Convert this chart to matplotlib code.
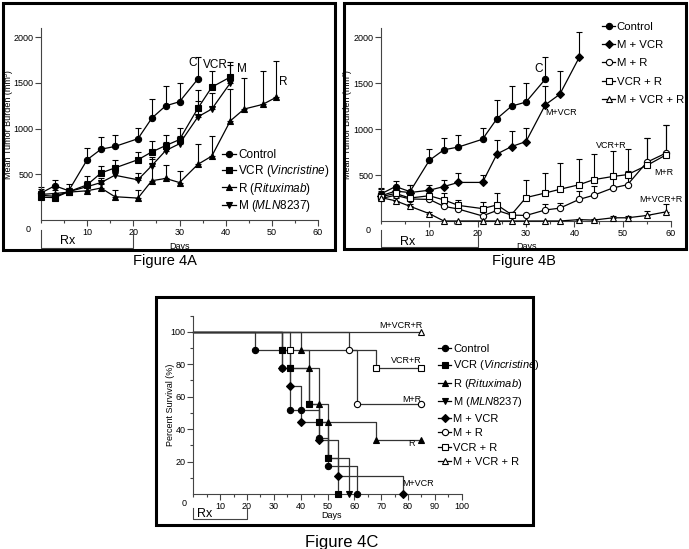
import numpy as np
import matplotlib
matplotlib.use("Agg")
import matplotlib.pyplot as plt
from matplotlib.patches import Rectangle
from matplotlib.lines import Line2D
import matplotlib.transforms as mtransforms

plt.rcParams['font.family'] = ['Liberation Sans', 'DejaVu Sans']
plt.rcParams['mathtext.fontset'] = 'custom'
plt.rcParams['mathtext.it'] = 'Liberation Sans:italic'
plt.rcParams['mathtext.rm'] = 'Liberation Sans'

# --- Figure 4A / 4B : tumor burden (mean, upper error) ---
ctrl_days = [0, 3, 6, 10, 13, 16, 21, 24, 27, 30, 34]
ctrl_mean = [295, 375, 320, 660, 775, 805, 890, 1115, 1250, 1295, 1545]
ctrl_err = [65, 65, 70, 125, 130, 130, 120, 205, 215, 205, 245]

vcr_days = [0, 3, 6, 10, 13, 16, 21, 24, 27, 30, 34, 37, 41]
vcr_mean = [250, 245, 310, 385, 515, 570, 660, 745, 815, 880, 1225, 1455, 1565]
vcr_err = [70, 40, 40, 100, 80, 90, 80, 115, 115, 125, 200, 175, 170]

r_days = [0, 3, 6, 10, 13, 16, 21, 24, 27, 30, 34, 37, 41, 44, 48, 51]
r_mean = [280, 290, 305, 320, 350, 255, 240, 430, 455, 410, 610, 700, 1085, 1215, 1265, 1345]
r_err = [60, 40, 30, 40, 40, 70, 85, 240, 150, 130, 220, 215, 345, 345, 365, 395]

m_days = [0, 3, 6, 10, 13, 16, 21, 24, 27, 30, 34, 37, 41]
m_mean = [270, 260, 310, 365, 410, 490, 440, 595, 760, 835, 1130, 1215, 1500]
m_err = [50, 40, 40, 60, 50, 0, 70, 100, 90, 90, 170, 175, 200]

mvcr_days = [0, 3, 6, 10, 13, 16, 21, 24, 27, 30, 34, 37, 41]
mvcr_mean = [275, 325, 310, 335, 375, 420, 420, 730, 810, 865, 1265, 1380, 1780]
mvcr_err = [70, 60, 80, 60, 70, 105, 85, 155, 165, 150, 210, 255, 280]

combo_days = [0, 3, 6, 10, 13, 16, 21, 24, 27, 30, 34, 37, 41, 44, 48, 51, 55, 59]
mr_mean = [245, 280, 240, 235, 160, 130, 55, 115, 65, 60, 120, 140, 235, 280, 360, 395, 640, 740]
mr_err = [40, 40, 40, 30, 40, 40, 60, 70, 20, 20, 60, 60, 90, 100, 130, 150, 260, 300]
vcrr_mean = [265, 300, 250, 275, 230, 170, 135, 175, 70, 255, 305, 345, 395, 450, 485, 505, 605, 720]
vcrr_err = [60, 50, 60, 60, 80, 60, 70, 130, 30, 195, 215, 285, 280, 280, 280, 280, 295, 320]
mvcrr_mean = [255, 220, 160, 80, 0, 0, 0, 0, 0, 0, 0, 0, 15, 10, 35, 35, 60, 100]
mvcrr_err = [30, 30, 20, 20, 0, 0, 0, 0, 0, 0, 0, 0, 10, 10, 15, 15, 45, 90]

# --- Figure 4C : Kaplan-Meier steps (day of step, percent after step) ---
km_ctrl_t = [23, 33, 36, 40, 47, 50, 61]
km_ctrl_s = [88.9, 77.8, 51.9, 51.9, 34.6, 17.3, 0]
km_vcr_t = [33, 36, 43, 47, 50, 54]
km_vcr_s = [88.9, 77.8, 55.6, 44.4, 22.2, 0]
km_r_t = [40, 43, 47, 50, 68, 85]
km_r_s = [88.9, 77.8, 55.6, 44.4, 33.3, 33.3]
km_m_t = [33, 36, 43, 47, 50, 58]
km_m_s = [88.9, 77.8, 55.6, 44.4, 22.2, 0]
km_mvcr_t = [33, 36, 40, 47, 54, 78]
km_mvcr_s = [77.8, 66.7, 44.4, 33.3, 11.1, 0]
km_mr_t = [58, 61, 85]
km_mr_s = [88.9, 55.6, 55.6]
km_vcrr_t = [36, 68, 85]
km_vcrr_s = [88.9, 77.8, 77.8]
km_mvcrr_t = [85]
km_mvcrr_s = [100]

W, H = 689, 549
fig = plt.figure(figsize=(W / 100, H / 100), dpi=100)
fig.patch.set_facecolor('white')


def fx(px):
    return px / W


def fy(py):
    return 1 - py / H


def axes_px(x0, x1, y0, y1):
    # pixel box -> figure axes (y0 = top, y1 = bottom)
    return fig.add_axes([fx(x0), fy(y1), (x1 - x0) / W, (y1 - y0) / H])


def frame(x0, y0, x1, y1):
    fig.add_artist(Rectangle((fx(x0), fy(y1)), (x1 - x0) / W, (y1 - y0) / H,
                             transform=fig.transFigure, fill=False,
                             edgecolor='black', linewidth=2.2))


def style_axes(ax, xmax, ymax, yticks, xstep):
    for s in ['top', 'right']:
        ax.spines[s].set_visible(False)
    for s in ['left', 'bottom']:
        ax.spines[s].set_color('#444444')
        ax.spines[s].set_linewidth(0.8)
    ax.set_xlim(0, xmax)
    ax.set_ylim(0, ymax)
    ax.set_xticks(np.arange(xstep, xmax + 1, xstep))
    ax.set_xticks(np.arange(0, xmax + 0.1, xstep / 2), minor=True)
    ax.set_yticks(yticks)
    ax.tick_params(axis='both', which='major', direction='out', length=4,
                   width=0.8, color='#444444', labelsize=6.5, pad=1.5)
    ax.tick_params(axis='both', which='minor', direction='out', length=2.5,
                   width=0.8, color='#444444')
    ax.patch.set_alpha(0)


def series(ax, x, y, err, marker, filled=True, ms=4.5):
    fc = 'black' if filled else 'white'
    ax.plot(x, y, color='black', lw=0.9, marker=marker, ms=ms,
            mfc=fc, mec='black', mew=0.8, zorder=3, clip_on=False)
    x = np.array(x)
    y = np.array(y)
    err = np.array(err)
    keep = err > 0
    ax.errorbar(x[keep], y[keep], yerr=[np.zeros(keep.sum()), err[keep]],
                fmt='none', ecolor='black', elinewidth=0.8, capsize=2.3,
                capthick=0.8, zorder=2, clip_on=False)


def rx_bracket(ax, y_top, y_bot, rx_x, days_x, y_text, y_days):
    tr = mtransforms.blended_transform_factory(ax.transData, ax.transAxes)
    ax.plot([0, 0, 20, 20], [y_top, y_bot, y_bot, y_top], color='#444444',
            lw=0.8, transform=tr, clip_on=False)
    ax.text(rx_x, y_text, 'Rx', transform=tr, fontsize=9, ha='left', va='center')
    ax.text(days_x, y_days, 'Days', transform=tr, fontsize=6.5, ha='center', va='center')


def legend_px(ax, handles, labels, px, py, fs, spacing, hl):
    ax.legend(handles, labels, loc='upper left', bbox_to_anchor=(fx(px), fy(py)),
              bbox_transform=fig.transFigure, frameon=False, fontsize=fs,
              handlelength=hl, handletextpad=0.15, labelspacing=spacing,
              borderpad=0, borderaxespad=0)


def handle(marker, filled=True, ms=4.5):
    return Line2D([], [], color='black', lw=0.9, marker=marker, ms=ms,
                  mfc='black' if filled else 'white', mec='black', mew=0.8)


# --- panel frames ---
frame(3, 3, 335, 250)
frame(344, 3, 686, 249)
frame(156, 297, 533, 525)

# --- Figure 4A ---
axA = axes_px(41, 318, 28.2, 220)
style_axes(axA, 60, 2100, [500, 1000, 1500, 2000], 10)
series(axA, ctrl_days, ctrl_mean, ctrl_err, 'o')
series(axA, vcr_days, vcr_mean, vcr_err, 's', ms=4.2)
series(axA, r_days, r_mean, r_err, '^')
series(axA, m_days, m_mean, m_err, 'v')
axA.set_ylabel('Mean Tumor Burden (mm³)', fontsize=6.5)
axA.yaxis.set_label_coords(-0.101, 0.5)
axA.text(-2.2, -55, '0', fontsize=6.5, ha='right', va='top')
rx_bracket(axA, -0.052, -0.146, 4.1, 30.1, -0.112, -0.139)
axA.text(32.8, 1724, 'C', fontsize=8.5, ha='center', va='center')
axA.text(37.8, 1697, 'VCR', fontsize=8.5, ha='center', va='center')
axA.text(43.5, 1658, 'M', fontsize=8.5, ha='center', va='center')
axA.text(52.5, 1511, 'R', fontsize=8.5, ha='center', va='center')
legend_px(axA, [handle('o'), handle('s', ms=4.2), handle('^'), handle('v')],
          ['Control', r'VCR $\it{(Vincristine)}$', r'R $\it{(Rituximab)}$',
           r'M $\it{(MLN8237)}$'], 222, 149, 8.5, 0.15, 1.2)
fig.text(fx(165), fy(261), 'Figure 4A', fontsize=10.5, ha='center', va='center')

# --- Figure 4B ---
axB = axes_px(381, 671, 28.1, 221)
style_axes(axB, 60, 2100, [500, 1000, 1500, 2000], 10)
series(axB, ctrl_days, ctrl_mean, ctrl_err, 'o')
series(axB, mvcr_days, mvcr_mean, mvcr_err, 'D', ms=4)
series(axB, combo_days, mr_mean, mr_err, 'o', filled=False)
series(axB, combo_days, vcrr_mean, vcrr_err, 's', filled=False, ms=4.2)
series(axB, combo_days, mvcrr_mean, mvcrr_err, '^', filled=False)
axB.set_ylabel('Mean Tumor Burden (mm³)', fontsize=6.5)
axB.yaxis.set_label_coords(-0.1, 0.5)
axB.text(-2.2, -55, '0', fontsize=6.5, ha='right', va='top')
rx_bracket(axB, -0.047, -0.133, 3.9, 30.1, -0.107, -0.130)
axB.text(32.6, 1655, 'C', fontsize=8.5, ha='center', va='center')
axB.text(37.3, 1181, 'M+VCR', fontsize=6.5, ha='center', va='center')
axB.text(47.6, 822, 'VCR+R', fontsize=6.5, ha='center', va='center')
axB.text(58.5, 533, 'M+R', fontsize=6.5, ha='center', va='center')
axB.text(58.0, 229, 'M+VCR+R', fontsize=6.5, ha='center', va='center')
legend_px(axB, [handle('o'), handle('D', ms=4), handle('o', False),
                handle('s', False, 4.2), handle('^', False)],
          ['Control', 'M + VCR', 'M + R', 'VCR + R', 'M + VCR + R'],
          602, 22, 8.2, 0.72, 1.15)
fig.text(fx(524), fy(261), 'Figure 4B', fontsize=10.5, ha='center', va='center')

# --- Figure 4C ---
axC = axes_px(193.3, 461.7, 315.5, 494)
style_axes(axC, 100, 110, [20, 40, 60, 80, 100], 10)
axC.set_yticks(np.arange(10, 111, 10), minor=True)
km_sets = [
    (km_mvcrr_t, km_mvcrr_s, '^', False),
    (km_m_t, km_m_s, 'v', True),
    (km_vcrr_t, km_vcrr_s, 's', False),
    (km_mr_t, km_mr_s, 'o', False),
    (km_r_t, km_r_s, '^', True),
    (km_vcr_t, km_vcr_s, 's', True),
    (km_mvcr_t, km_mvcr_s, 'D', True),
    (km_ctrl_t, km_ctrl_s, 'o', True),
]
for t, s, mk, filled in km_sets:
    xs = [0] + list(t)
    ys = [100] + list(s)
    axC.step(xs, ys, where='post', color='#333333', lw=0.9, zorder=2, clip_on=False)
    axC.plot(t, s, ls='none', marker=mk, ms=4.5 if mk != 'D' else 4,
             mfc='black' if filled else 'white', mec='black', mew=0.8,
             zorder=3, clip_on=False)
axC.set_ylabel('Percent Survival (%)', fontsize=6.5)
axC.yaxis.set_label_coords(-0.07, 0.5)
axC.text(-2.5, -3, '0', fontsize=6.5, ha='right', va='top')
rx_bracket(axC, -0.08, -0.142, 1.3, 51.5, -0.112, -0.118)
axC.text(77.2, 104, 'M+VCR+R', fontsize=6.5, ha='center', va='center')
axC.text(79.5, 82, 'VCR+R', fontsize=6.5, ha='center', va='center')
axC.text(81.3, 58.2, 'M+R', fontsize=6.5, ha='center', va='center')
axC.text(81.4, 31, 'R', fontsize=6.5, ha='center', va='center')
axC.text(83.9, 6.5, 'M+VCR', fontsize=6.5, ha='center', va='center')
legend_px(axC, [handle('o'), handle('s'), handle('^'), handle('v'), handle('D', ms=4),
                handle('o', False), handle('s', False), handle('^', False)],
          ['Control', r'VCR $\it{(Vincristine)}$', r'R $\it{(Rituximab)}$',
           r'M $\it{(MLN8237)}$', 'M + VCR', 'M + R', 'VCR + R', 'M + VCR + R'],
          438, 344, 8, 0.4, 1.2)
fig.text(fx(342), fy(546.5), 'Figure 4C', fontsize=12, ha='center', va='baseline')

fig.savefig('out.png', dpi=100)
